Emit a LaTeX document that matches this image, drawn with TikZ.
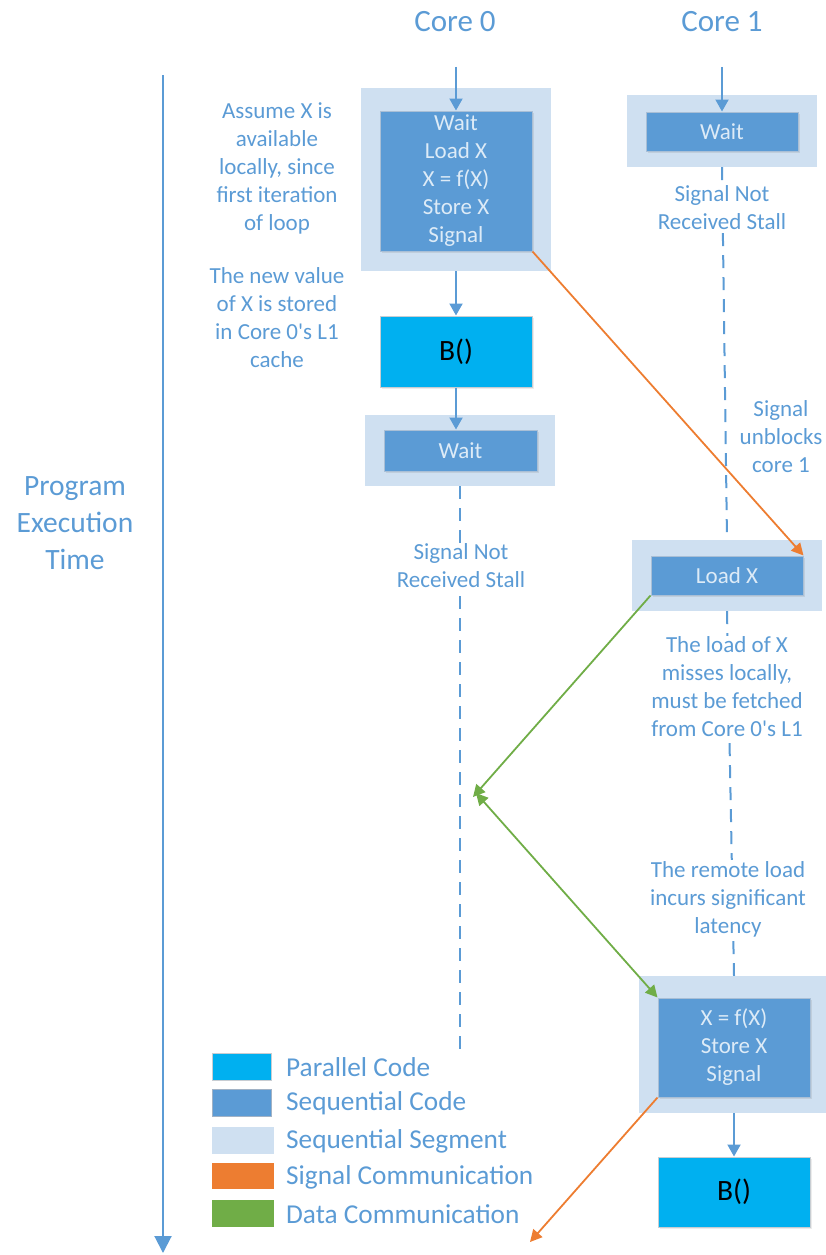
\documentclass[tikz,border=0pt]{standalone}
\usepackage{fontspec}
\setmainfont{Carlito}
\usetikzlibrary{arrows.meta,shadows}

\definecolor{parcol}{HTML}{00B0F0}
\definecolor{seqcol}{HTML}{5B9BD5}
\definecolor{seqedge}{HTML}{A9BFD6}
\definecolor{paredge}{HTML}{C8CDD2}
\definecolor{segcol}{HTML}{CFE0F1}
\definecolor{txtcol}{HTML}{5B9BD5}
\definecolor{boxtxt}{HTML}{DDEBF7}
\definecolor{sigcol}{HTML}{ED7D31}
\definecolor{datcol}{HTML}{70AD47}

\newcommand{\apos}{\textquotesingle}

\tikzset{
  segbox/.style={fill=segcol, draw=none, inner sep=0pt},
  seqbox/.style={fill=seqcol, draw=seqedge, line width=1pt, inner sep=0pt,
    text=boxtxt, align=center, font=\fontsize{23}{28}\selectfont,
    drop shadow={opacity=0.18, shadow xshift=1.5pt, shadow yshift=-2pt}},
  parbox/.style={fill=parcol, draw=paredge, line width=1pt, inner sep=0pt,
    text=black, font=\fontsize{29.5}{36}\selectfont,
    drop shadow={opacity=0.15, shadow xshift=1.5pt, shadow yshift=-2pt}},
  note/.style={text=txtcol, align=center, font=\fontsize{23}{28}\selectfont, inner sep=1pt},
  cover/.style={note, fill=white},
  title/.style={text=txtcol, font=\fontsize{31}{36}\selectfont},
  flow/.style={draw=seqcol, line width=2pt, -{Triangle[length=12pt,width=13pt]}},
  stall/.style={draw=seqcol, line width=2pt, dash pattern=on 13pt off 9pt},
  sigline/.style={draw=sigcol, line width=1.8pt, -{Triangle[length=12pt,width=12pt]}},
  datline/.style={draw=datcol, line width=1.8pt, -{Triangle[length=12pt,width=12pt]}},
  datboth/.style={draw=datcol, line width=1.8pt, {Triangle[length=12pt,width=12pt]}-{Triangle[length=12pt,width=12pt]}},
  swatch/.style={inner sep=0pt, minimum width=59pt, minimum height=27pt},
  legtext/.style={text=txtcol, anchor=west, font=\fontsize{27.3}{30}\selectfont, inner sep=0pt},
}

\begin{document}
\begin{tikzpicture}[x=1pt, y=-1pt]
\useasboundingbox (0,0) rectangle (825,1255);

% column titles
\node[title] (t0) at (455,22) {Core 0};
\node[title] (t1) at (722,22) {Core 1};

% time axis
\coordinate (axtop) at (163,75);
\coordinate (axbot) at (163,1253);
\draw[draw=seqcol, line width=2pt, -{Triangle[length=17pt,width=17pt]}] (axtop) -- (axbot);
\node[note, font=\fontsize{29.5}{37}\selectfont] (ptime) at (75,523) {Program\\Execution\\Time};

% ---------------- Core 0 ----------------
\coordinate (top0) at (456,67);
\node[segbox, minimum width=190pt, minimum height=183pt] (seg1) at (456,179.5) {};
\node[seqbox, minimum width=152pt, minimum height=140pt] (seq1) at (456,181)
  {Wait\\Load X\\X = f(X)\\Store X\\Signal};
\node[parbox, minimum width=152pt, minimum height=71pt] (b0) at (456,351.5) {B()};
\node[segbox, minimum width=190pt, minimum height=71pt] (seg2) at (460,450.5) {};
\node[seqbox, minimum width=153pt, minimum height=41pt] (wait0) at (460.5,450.5) {Wait};
\coordinate (end0) at (460,1055);

\draw[flow] (top0) -- (seq1.north);
\draw[flow] (seg1.south) -- (b0.north);
\draw[flow] (b0.south) -- (b0.south |- wait0.north);
\draw[stall] (seg2.south) -- (end0);
\node[cover] (stall0) at (461,566) {Signal Not\\Received Stall};

\node[note] (n1) at (277,168) {Assume X is\\available\\locally, since\\first iteration\\of loop};
\node[note] (n2) at (277,318) {The new value\\of X is stored\\in Core 0\apos s L1\\cache};

% ---------------- Core 1 ----------------
\coordinate (top1) at (722,67);
\node[segbox, minimum width=190pt, minimum height=72pt] (seg3) at (722,131) {};
\node[seqbox, minimum width=152pt, minimum height=39pt] (wait1) at (722,131.5) {Wait};
\node[segbox, minimum width=190pt, minimum height=71pt] (seg4) at (727,575.5) {};
\node[seqbox, minimum width=152pt, minimum height=39pt] (load1) at (727,575.5) {Load X};
\node[segbox, minimum width=190pt, minimum height=137pt] (seg5) at (734,1044.5) {};
\node[seqbox, minimum width=152pt, minimum height=99pt] (seq5) at (734,1047.5)
  {X = f(X)\\Store X\\Signal};
\node[parbox, minimum width=152pt, minimum height=70pt] (b1) at (734,1192) {B()};

\draw[flow] (top1) -- (wait1.north);
\draw[stall] (seg3.south) -- (seg4.north);
\draw[stall] (seg4.south) -- (seg5.north);
\draw[flow] (seg5.south) -- (b1.north);

\node[cover] (stall1) at (722,208) {Signal Not\\Received Stall};
\node[note] (n3) at (781,437) {Signal\\unblocks\\core 1};
\node[cover] (n4) at (727,687) {The load of X\\misses locally,\\must be fetched\\from Core 0\apos s L1};
\node[cover] (n5) at (728,899) {The remote load\\incurs significant\\latency};

% ---------------- communication ----------------
\coordinate (g0) at (473,797);
\coordinate (g1) at (476,793);
\coordinate (sigout) at (530,1242);
\draw[sigline] (seq1.south east) -- (load1.north east);
\draw[datline] (load1.south west) -- (g0);
\draw[datboth] (g1) -- (seq5.north west);
\draw[sigline] (seq5.south west) -- (sigout);

% ---------------- legend ----------------
\node[swatch, fill=parcol, draw=paredge, line width=1pt] (lp) at (241.5,1066.5) {};
\node[swatch, fill=seqcol, draw=seqedge!80!gray, line width=1pt] (ls) at (241.5,1102.5) {};
\node[swatch, fill=segcol, minimum width=62pt] (lg) at (243,1140.5) {};
\node[swatch, fill=sigcol, minimum width=62pt, minimum height=26pt] (lo) at (243,1176) {};
\node[swatch, fill=datcol, minimum width=62pt] (ld) at (243,1213.5) {};

\node[legtext] (tp) at (286,1067) {Parallel Code};
\node[legtext] (ts) at (286,1103) {Sequential Code};
\node[legtext] (tg) at (286,1141) {Sequential Segment};
\node[legtext] (to) at (286,1177) {Signal Communication};
\node[legtext] (td) at (286,1214) {Data Communication};
\end{tikzpicture}
\end{document}
